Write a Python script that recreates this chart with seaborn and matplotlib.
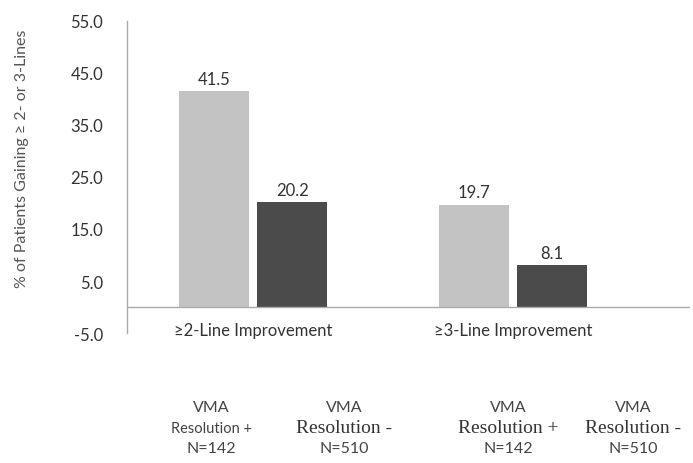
import matplotlib
matplotlib.use("Agg")
import matplotlib.pyplot as plt
import matplotlib.transforms as mtransforms
import seaborn as sns
import pandas as pd

# Data
outcomes = ["\u22652-Line Improvement", "\u22653-Line Improvement"]
groups = ["VMA Resolution +", "VMA Resolution -"]
resolved_pct = [41.5, 19.7]
unresolved_pct = [20.2, 8.1]
group_n = ["N=142", "N=510"]
y_ticks = [-5.0, 5.0, 15.0, 25.0, 35.0, 45.0, 55.0]

df = pd.DataFrame({
    "outcome": outcomes * 2,
    "group": [groups[0]] * 2 + [groups[1]] * 2,
    "pct": resolved_pct + unresolved_pct,
})

sns.set_theme(style="white")
plt.rcParams["font.family"] = ["Lato", "DejaVu Sans"]

fig = plt.figure(figsize=(6.93, 4.64), dpi=100)
ax = fig.add_axes([0.183, 0.280, 0.813, 0.673])

palette = {groups[0]: "#c3c3c3", groups[1]: "#4b4b4b"}
sns.barplot(data=df, x="outcome", y="pct", hue="group", order=outcomes,
            hue_order=groups, palette=palette, width=0.6, gap=0.1,
            saturation=1, legend=False, ax=ax, linewidth=0)

ax.set_ylim(-5, 55)
ax.set_xlim(-0.485, 1.68)
ax.set_yticks(y_ticks)
ax.set_yticklabels([f"{v:.1f}" for v in y_ticks], fontsize=12, color="#333333")
ax.tick_params(axis="y", length=3, color="#aaaaaa", pad=14)
ax.tick_params(axis="x", length=0, pad=-8)
ax.set_xticks([0, 1])
ax.set_xticklabels(outcomes, fontsize=12, color="#333333")
ax.set_xlabel("")
ax.set_ylabel("% of Patients Gaining \u2265 2- or 3-Lines", fontsize=11.5,
              color="#555555")
ax.yaxis.set_label_coords(-0.174, 0.56)

for side in ["top", "right", "bottom"]:
    ax.spines[side].set_visible(False)
ax.spines["left"].set_color("#aaaaaa")
ax.spines["left"].set_linewidth(1)
ax.axhline(0, color="#aaaaaa", linewidth=1)

# Value labels above each bar
for cont in ax.containers:
    ax.bar_label(cont, labels=[f"{v:.1f}" for v in cont.datavalues],
                 padding=3, fontsize=12, color="#333333")

# Group descriptions under the bars
trans = mtransforms.blended_transform_factory(ax.transData, fig.transFigure)
offsets = [[-0.16, 0.35], [-0.02, 0.46]]
for i in range(len(outcomes)):
    for j, g in enumerate(groups):
        xpos = i + offsets[i][j]
        sign = g.split()[-1]
        use_serif = not (i == 0 and j == 0)
        ax.text(xpos, 1 - 408 / 464, "VMA", transform=trans, ha="center",
                va="center", fontsize=11.5, color="#444444")
        if use_serif:
            ax.text(xpos, 1 - 429 / 464, "Resolution " + sign,
                    transform=trans, ha="center", va="center",
                    family="Liberation Serif", fontsize=14,
                    color="#333333")
        else:
            ax.text(xpos, 1 - 429 / 464, "Resolution " + sign,
                    transform=trans, ha="center", va="center",
                    fontsize=10.5, color="#444444")
        ax.text(xpos, 1 - 449 / 464, group_n[j], transform=trans,
                ha="center", va="center", fontsize=11.5, color="#444444")

fig.savefig("out.png", dpi=100, facecolor="white")
